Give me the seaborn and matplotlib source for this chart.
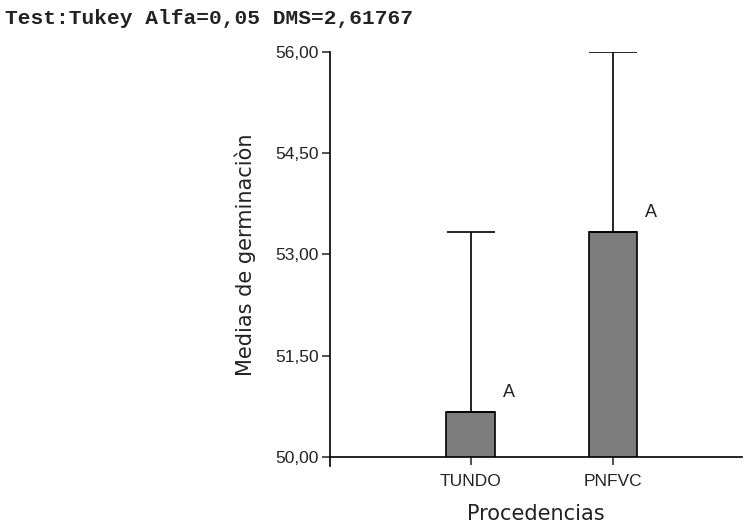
import matplotlib
matplotlib.use("Agg")
import matplotlib.pyplot as plt
import seaborn as sns
import pandas as pd

# ---- data ----
categories = ["TUNDO", "PNFVC"]
means = [50.67, 53.33]
upper_limits = [53.33, 56.00]
letters = ["A", "A"]
y_ticks = [50.0, 51.5, 53.0, 54.5, 56.0]
y_tick_labels = ["50,00", "51,50", "53,00", "54,50", "56,00"]
title = "Test:Tukey Alfa=0,05 DMS=2,61767"
x_label = "Procedencias"
y_label = "Medias de germinaciòn"

df = pd.DataFrame({"Procedencia": categories, "Media": means})
err_up = [u - m for u, m in zip(upper_limits, means)]

sns.set_style("ticks")
plt.rcParams["font.family"] = ["Liberation Sans", "DejaVu Sans"]

W, H = 749, 529
fig = plt.figure(figsize=(W / 100, H / 100), dpi=100)
ax = fig.add_axes([330 / W, 1 - 457 / H, 412 / W, 405 / H])

sns.barplot(data=df, x="Procedencia", y="Media", color="#7c7c7c",
            saturation=1, width=0.34, edgecolor="black", linewidth=1.2,
            errorbar=None, ax=ax)
ax.errorbar(x=[0, 1], y=means, yerr=[[0, 0], err_up], fmt="none",
            ecolor="black", elinewidth=1.2, capsize=17.3, capthick=1.2, zorder=1)

for i, (m, lt) in enumerate(zip(means, letters)):
    ax.annotate(lt, xy=(i + 0.17, m), xytext=(6, 8), textcoords="offset points",
                ha="left", va="bottom", fontsize=13, color="#222222",
                family="Liberation Sans")

ax.set_xlim(-0.99, 1.91)
ax.set_ylim(50, 56)
ax.set_yticks(y_ticks)
ax.set_yticklabels(y_tick_labels)
ax.tick_params(axis="both", labelsize=12.5, colors="#222222", length=6, width=1.1,
               direction="out", pad=2)
ax.tick_params(axis="x", pad=6)

ax.set_xlabel(x_label, fontsize=15, family="DejaVu Sans", color="#222222", labelpad=11)
ax.set_ylabel(y_label, fontsize=15, family="DejaVu Sans", color="#222222", labelpad=14)

for s in ["top", "right"]:
    ax.spines[s].set_visible(False)
for s in ["left", "bottom"]:
    ax.spines[s].set_linewidth(1.2)
    ax.spines[s].set_color("black")
ax.spines["left"].set_bounds(49.87, 56)

fig.text(5 / W, 1 - 19 / H, title, fontsize=15.3, family="Liberation Mono",
         fontweight="bold", ha="left", va="center", color="#222222")

fig.savefig("out.png", dpi=100)
